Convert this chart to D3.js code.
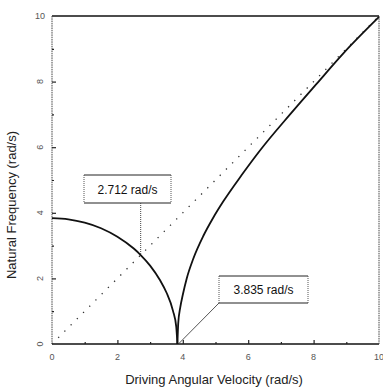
<!DOCTYPE html>
<html><head><meta charset="utf-8">
<script src="https://cdn.jsdelivr.net/npm/d3@7"></script>
<style>body{margin:0;background:#fff}svg{display:block}</style>
</head><body>
<svg id="c" width="383" height="388"></svg>
<script>
const leftX  = [0, 0.5, 1.0, 1.5, 2.0, 2.5, 2.712, 3.0, 3.3, 3.5, 3.7, 3.8, 3.835];
const leftY  = [3.835, 3.80, 3.70, 3.53, 3.27, 2.91, 2.712, 2.39, 1.95, 1.57, 1.01, 0.52, 0];
const rightX = [3.835, 3.86, 3.92, 4.0, 4.12, 4.32, 4.63, 4.93, 5.24, 5.8, 6.36, 7.28, 8.09, 8.91, 10];
const rightY = [0, 0.63, 1.1, 1.5, 2.0, 2.6, 3.3, 3.85, 4.35, 5.15, 5.9, 7.0, 7.93, 8.86, 9.97];
const diagX  = [0, 10];
const diagY  = [0, 10];
const xTicks = [0, 2, 4, 6, 8, 10];
const yTicks = [0, 2, 4, 6, 8, 10];
const minorTicks = [1, 3, 5, 7, 9];
const notes = [{x: 2.712, y: 2.712, label: "2.712 rad/s"}, {x: 3.835, y: 0, label: "3.835 rad/s"}];

const svg = d3.select("#c");
const L = 52, R = 379, T = 16, B = 344;
const x = d3.scaleLinear().domain([0, 10]).range([L, R]);
const y = d3.scaleLinear().domain([0, 10]).range([B, T]);

// frame
svg.append("line").attr("x1", L).attr("x2", R).attr("y1", T).attr("y2", T).attr("stroke", "#111").attr("stroke-width", 1.4);
svg.append("line").attr("x1", L).attr("x2", R).attr("y1", B).attr("y2", B).attr("stroke", "#111").attr("stroke-width", 1.4);
svg.append("line").attr("x1", L).attr("x2", L).attr("y1", T).attr("y2", B).attr("stroke", "#444").attr("stroke-width", 1).attr("stroke-dasharray", "1.5,0.8");
svg.append("line").attr("x1", R).attr("x2", R).attr("y1", T).attr("y2", B).attr("stroke", "#444").attr("stroke-width", 1).attr("stroke-dasharray", "1.5,0.8");

// axes (ticks inward)
const xAxis = svg.append("g").attr("transform", `translate(0,${B})`)
  .call(d3.axisTop(x).tickValues(xTicks.filter(v => v > 0 && v < 10)).tickSize(4).tickFormat(""));
const xMinor = svg.append("g").attr("transform", `translate(0,${B})`)
  .call(d3.axisTop(x).tickValues(minorTicks).tickSize(2).tickFormat(""));
const yAxis = svg.append("g").attr("transform", `translate(${L},0)`)
  .call(d3.axisRight(y).tickValues(yTicks.filter(v => v > 0 && v < 10)).tickSize(4).tickFormat(""));
const yMinor = svg.append("g").attr("transform", `translate(${L},0)`)
  .call(d3.axisRight(y).tickValues(minorTicks).tickSize(2).tickFormat(""));
[xAxis, xMinor, yAxis, yMinor].forEach(g => {
  g.select(".domain").remove();
  g.selectAll(".tick line").attr("stroke", "#222").attr("stroke-width", 1.2);
});

// tick labels
svg.append("g").selectAll("text").data(xTicks).join("text")
  .attr("x", d => x(d)).attr("y", 360)
  .attr("text-anchor", "middle").attr("font-family", "Liberation Sans, Arial, sans-serif")
  .attr("font-size", 9).attr("fill", "#555").text(d => d);
svg.append("g").selectAll("text").data(yTicks).join("text")
  .attr("transform", d => d === 10 ? `translate(40,${y(d) + 3})` : `translate(43,${y(d)}) rotate(-90)`)
  .attr("text-anchor", "middle").attr("font-family", "Liberation Sans, Arial, sans-serif")
  .attr("font-size", 9).attr("fill", "#555").text(d => d);

// diagonal dotted line
svg.append("path").datum(diagX.map((d, i) => [d, diagY[i]]))
  .attr("d", d3.line().x(d => x(d[0])).y(d => y(d[1])))
  .attr("fill", "none").attr("stroke", "#333").attr("stroke-width", 1.3)
  .attr("stroke-dasharray", "1.3,7.5");

// curves
const line = d3.line().x(d => x(d[0])).y(d => y(d[1])).curve(d3.curveMonotoneX);
svg.append("path").datum(leftX.map((d, i) => [d, leftY[i]]))
  .attr("d", line).attr("fill", "none").attr("stroke", "#111").attr("stroke-width", 1.8);
svg.append("path").datum(rightX.map((d, i) => [d, rightY[i]]))
  .attr("d", line).attr("fill", "none").attr("stroke", "#111").attr("stroke-width", 1.8);

// annotations
function box(bx, by, w, h, label) {
  const g = svg.append("g");
  g.append("line").attr("x1", bx).attr("x2", bx + w).attr("y1", by).attr("y2", by).attr("stroke", "#222").attr("stroke-width", 1);
  g.append("line").attr("x1", bx).attr("x2", bx + w).attr("y1", by + h).attr("y2", by + h).attr("stroke", "#222").attr("stroke-width", 1.2);
  g.append("line").attr("x1", bx).attr("x2", bx).attr("y1", by).attr("y2", by + h).attr("stroke", "#555").attr("stroke-width", 1).attr("stroke-dasharray", "1,1");
  g.append("line").attr("x1", bx + w).attr("x2", bx + w).attr("y1", by).attr("y2", by + h).attr("stroke", "#555").attr("stroke-width", 1).attr("stroke-dasharray", "1,1");
  g.append("text").attr("x", bx + w / 2).attr("y", by + h / 2 + 4.5)
    .attr("text-anchor", "middle").attr("font-family", "Liberation Sans, Arial, sans-serif")
    .attr("font-size", 12).attr("fill", "#111").text(label);
}
// note 1
box(84, 175, 87, 28, notes[0].label);
svg.append("line").attr("x1", x(notes[0].x)).attr("x2", x(notes[0].x)).attr("y1", 203).attr("y2", y(notes[0].y))
  .attr("stroke", "#444").attr("stroke-width", 1).attr("stroke-dasharray", "1,1");
// note 2
box(219, 276, 89, 27, notes[1].label);
svg.append("line").attr("x1", 219).attr("y1", 303).attr("x2", x(notes[1].x) + 2).attr("y2", y(notes[1].y) - 1)
  .attr("stroke", "#555").attr("stroke-width", 1);

// axis titles
svg.append("text").attr("x", 214).attr("y", 384).attr("text-anchor", "middle")
  .attr("font-family", "Liberation Sans, Arial, sans-serif").attr("font-size", 13).attr("fill", "#222")
  .text("Driving Angular Velocity (rad/s)");
svg.append("text").attr("transform", "translate(16,205) rotate(-90)").attr("text-anchor", "middle")
  .attr("font-family", "Liberation Sans, Arial, sans-serif").attr("font-size", 13).attr("fill", "#222")
  .text("Natural Frequency (rad/s)");
</script>
</body></html>
